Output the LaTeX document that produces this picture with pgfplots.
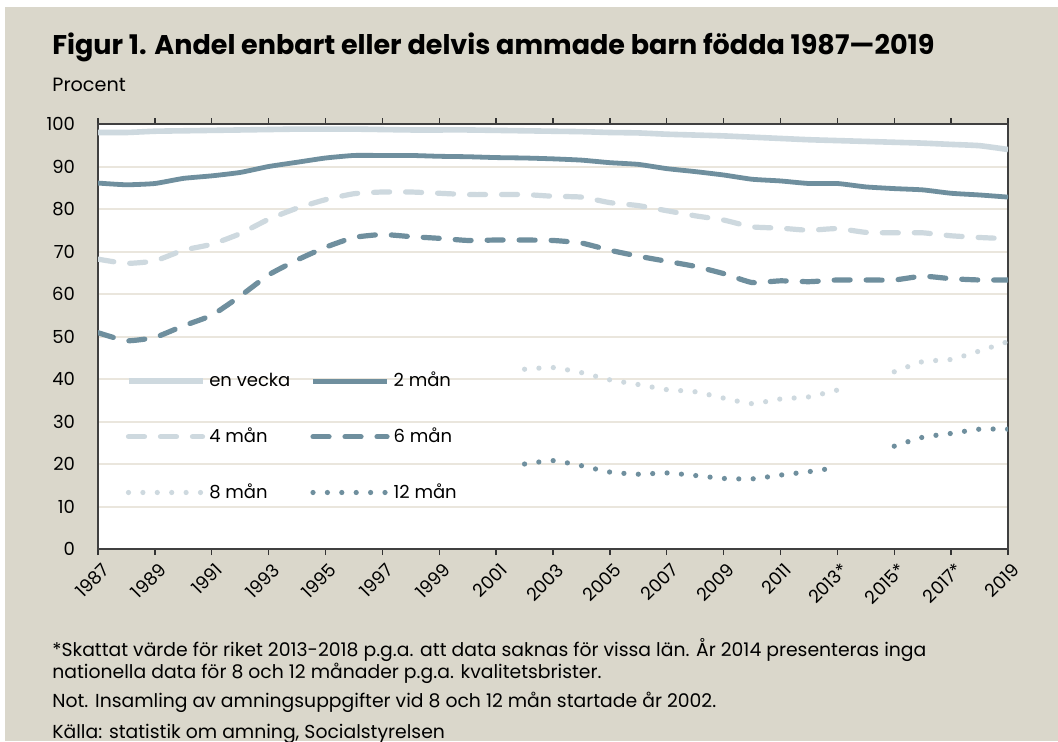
\documentclass[border=0pt]{standalone}
\usepackage{pgfplots}
\pgfplotsset{compat=1.18}
\usepackage{fontspec}
\setmainfont{Poppins}
\definecolor{bgbeige}{RGB}{218,215,203}
\definecolor{lightser}{RGB}{206,217,223}
\definecolor{darkser}{RGB}{111,143,158}
\definecolor{gridc}{RGB}{234,230,221}

\begin{document}
\begin{tikzpicture}
\path[use as bounding box] (0,0) rectangle (529pt,370.5pt);
\fill[white] (0,0) rectangle (529pt,370.5pt);
\fill[bgbeige] (2.5pt,0) rectangle (529pt,367pt);
\node[anchor=west,inner sep=0pt] at (26pt,347pt) {\resizebox{441pt}{!}{\bfseries Figur 1. Andel enbart eller delvis ammade barn födda 1987—2019}};
\node[anchor=west,inner sep=0pt,font=\fontsize{9.6}{11}\selectfont] at (26pt,328pt) {Procent};
\node[anchor=base west,inner sep=0pt,font=\fontsize{9.4}{11}\selectfont] at (26pt,42.5pt) {*Skattat värde för riket 2013-2018 p.g.a. att data saknas för vissa län. År 2014 presenteras inga};
\node[anchor=base west,inner sep=0pt,font=\fontsize{9.4}{11}\selectfont] at (26pt,31.5pt) {nationella data för 8 och 12 månader p.g.a. kvalitetsbrister.};
\node[anchor=base west,inner sep=0pt,font=\fontsize{9.4}{11}\selectfont] at (26pt,17pt) {Not. Insamling av amningsuppgifter vid 8 och 12 mån startade år 2002.};
\node[anchor=base west,inner sep=0pt,font=\fontsize{9.4}{11}\selectfont] at (26pt,1.5pt) {Källa: statistik om amning, Socialstyrelsen};
\begin{axis}[
  at={(49pt,96pt)}, anchor=south west,
  scale only axis, width=455pt, height=212.5pt,
  xmin=1987, xmax=2019, ymin=0, ymax=100,
  axis background/.style={fill=white},
  ytick={0,10,...,100},
  xtick={1987,1989,...,2019},
  xticklabels={1987,1989,1991,1993,1995,1997,1999,2001,2003,2005,2007,2009,2011,2013*,2015*,2017*,2019},
  minor x tick num=1,
  ymajorgrids, grid style={gridc, line width=1pt},
  axis line style={draw=black!75, line width=0.9pt},
  tick align=outside,
  major tick length=3pt, minor tick length=3pt,
  xtick style={black!80, line width=0.7pt},
  ytick style={draw=none},
  yticklabel style={font=\fontsize{9}{10}\selectfont, xshift=-5pt},
  xticklabel style={font=\fontsize{9}{10}\selectfont, rotate=45, anchor=north east, xshift=2pt},
  /pgf/number format/assume math mode=true,
  legend columns=2,
  legend cell align=left,
  legend style={at={(0.03,0.264)}, anchor=west, draw=none, fill=none, inner sep=0pt,
    font=\fontsize{9}{10}\selectfont, row sep=15pt,
    /tikz/every even column/.append style={column sep=8pt}},
  legend image code/.code={\draw[#1] (0pt,0pt) -- (37pt,0pt);},
]
\addplot[lightser, line width=2.8pt, smooth, tension=0.3] table {
1987 98.0
1988 98.0
1989 98.3
1990 98.4
1991 98.5
1992 98.6
1993 98.7
1994 98.8
1995 98.8
1996 98.8
1997 98.7
1998 98.6
1999 98.6
2000 98.6
2001 98.5
2002 98.4
2003 98.3
2004 98.2
2005 98.0
2006 97.9
2007 97.6
2008 97.4
2009 97.2
2010 96.9
2011 96.6
2012 96.3
2013 96.1
2014 95.9
2015 95.7
2016 95.5
2017 95.2
2018 94.9
2019 94.0
};
\addlegendentry{en vecka}
\addplot[darkser, line width=2.4pt, smooth, tension=0.3] table {
1987 86.1
1988 85.7
1989 86.0
1990 87.2
1991 87.8
1992 88.6
1993 90.0
1994 91.0
1995 92.0
1996 92.6
1997 92.6
1998 92.6
1999 92.4
2000 92.3
2001 92.1
2002 92.0
2003 91.8
2004 91.5
2005 90.9
2006 90.5
2007 89.5
2008 88.8
2009 88.0
2010 87.0
2011 86.6
2012 86.0
2013 86.0
2014 85.2
2015 84.8
2016 84.5
2017 83.7
2018 83.3
2019 82.8
};
\addlegendentry{2 mån}
\addplot[lightser, line width=2.6pt, smooth, tension=0.3, line cap=round, dash pattern=on 8pt off 8pt] table {
1987 68.2
1988 67.2
1989 67.8
1990 70.3
1991 71.7
1992 74.2
1993 77.6
1994 80.2
1995 82.2
1996 83.6
1997 84.0
1998 84.0
1999 83.7
2000 83.4
2001 83.4
2002 83.4
2003 83.0
2004 82.8
2005 81.5
2006 80.8
2007 79.6
2008 78.4
2009 77.4
2010 75.8
2011 75.5
2012 75.0
2013 75.4
2014 74.5
2015 74.4
2016 74.4
2017 73.7
2018 73.3
2019 73.0
};
\addlegendentry{4 mån}
\addplot[darkser, line width=2.6pt, smooth, tension=0.3, line cap=round, dash pattern=on 8pt off 8pt] table {
1987 50.9
1988 49.0
1989 49.8
1990 52.5
1991 55.0
1992 59.5
1993 64.5
1994 68.0
1995 71.0
1996 73.3
1997 74.0
1998 73.5
1999 73.1
2000 72.6
2001 72.7
2002 72.7
2003 72.6
2004 72.0
2005 70.3
2006 68.9
2007 67.7
2008 66.5
2009 64.8
2010 62.7
2011 63.1
2012 62.9
2013 63.3
2014 63.3
2015 63.3
2016 64.2
2017 63.6
2018 63.3
2019 63.3
};
\addlegendentry{6 mån}
\addplot[lightser, line width=2.6pt, smooth, tension=0.3, line cap=round, dash pattern=on 0pt off 7.2pt] table {
2002 42.3
2003 42.7
2004 41.5
2005 39.8
2006 38.7
2007 37.5
2008 37.0
2009 35.5
2010 34.2
2011 35.3
2012 35.8
2013 37.4
};
\addlegendentry{8 mån}
\addplot[darkser, line width=2.6pt, smooth, tension=0.3, line cap=round, dash pattern=on 0pt off 7.2pt] table {
2002 20.0
2003 20.8
2004 19.6
2005 18.1
2006 17.6
2007 17.9
2008 17.3
2009 16.6
2010 16.5
2011 17.4
2012 18.2
2013 19.2
};
\addlegendentry{12 mån}
\addplot[lightser, line width=2.6pt, smooth, tension=0.3, line cap=round, dash pattern=on 0pt off 7.2pt, forget plot] table {
2015 41.7
2016 44.1
2017 44.6
2018 46.6
2019 48.8
};
\addplot[darkser, line width=2.6pt, smooth, tension=0.3, line cap=round, dash pattern=on 0pt off 7.2pt, forget plot] table {
2015 24.2
2016 26.3
2017 27.2
2018 28.2
2019 28.2
};
\end{axis}
\end{tikzpicture}
\end{document}
